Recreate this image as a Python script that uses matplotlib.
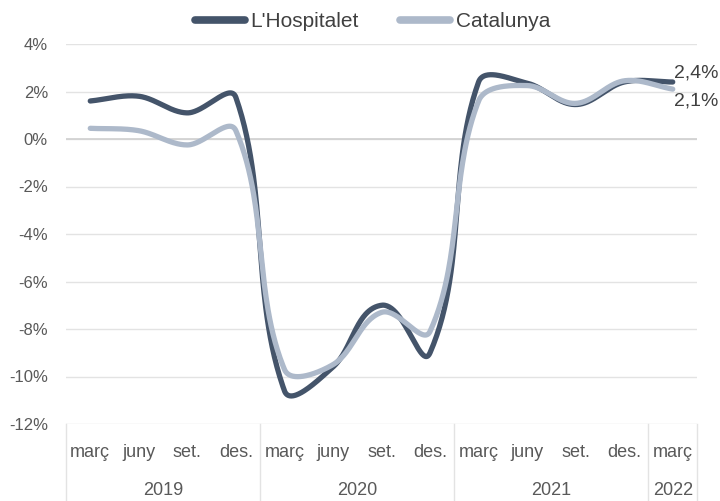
import numpy as np
import matplotlib.pyplot as plt
import matplotlib.transforms as mtransforms

plt.rcParams['font.family'] = ['Liberation Sans Narrow', 'Liberation Sans', 'DejaVu Sans']

# data: quarterly values, % change
months = ['març', 'juny', 'set.', 'des.'] * 3 + ['març']
years = ['2019', '2020', '2021', '2022']
year_len = [4, 4, 4, 1]
hospitalet = [1.6, 1.8, 1.1, 1.75, -10.6, -9.6, -7.0, -9.0, 2.4, 2.35, 1.45, 2.4, 2.4]
catalunya = [0.45, 0.35, -0.25, 0.35, -9.7, -9.5, -7.3, -8.1, 1.6, 2.25, 1.5, 2.45, 2.1]
last_labels = ['2,4%', '2,1%']
yticks = [4, 2, 0, -2, -4, -6, -8, -10, -12]

dark = '#44546a'
light = '#adb9ca'
txt = '#595959'
grid = '#e3e3e3'


def smooth(ax, vals, n=60):
    # excel-like smoothing: bezier in screen space, tangent from neighbours,
    # control arm = chord length / 3
    pts = ax.transData.transform(np.column_stack([np.arange(len(vals)), vals]))
    k = len(pts)
    tang = []
    for i in range(k):
        a = pts[max(i - 1, 0)]
        b = pts[min(i + 1, k - 1)]
        d = b - a
        tang.append(d / np.hypot(*d))
    out = []
    t = np.linspace(0, 1, n)[:, None]
    for i in range(k - 1):
        p1, p2 = pts[i], pts[i + 1]
        ch = np.hypot(*(p2 - p1)) / 3
        c1 = p1 + tang[i] * ch
        c2 = p2 - tang[i + 1] * ch
        seg = (1 - t)**3 * p1 + 3 * (1 - t)**2 * t * c1 + 3 * (1 - t) * t**2 * c2 + t**3 * p2
        out.append(seg)
    out = ax.transData.inverted().transform(np.vstack(out))
    return out[:, 0], out[:, 1]


fig = plt.figure(figsize=(7.2, 5.01), dpi=100)
ax = fig.add_axes([66 / 720, 1 - 424 / 501, 631 / 720, 380 / 501])

n = len(months)
ax.set_xlim(-0.5, n - 0.5)
ax.set_ylim(-12, 4)

for y in yticks:
    ax.axhline(y, color=grid, lw=1, zorder=0)
ax.axhline(0, color='#d0d0d0', lw=1.2, zorder=0)

x1, y1 = smooth(ax, hospitalet)
x2, y2 = smooth(ax, catalunya)
ax.plot(x1, y1, color=dark, lw=3.8, solid_capstyle='round', label="L'Hospitalet", zorder=3)
ax.plot(x2, y2, color=light, lw=3.8, solid_capstyle='round', label='Catalunya', zorder=4)

ax.set_yticks(yticks)
ax.set_yticklabels([f'{v}%' for v in yticks], color=txt, fontsize=12)
ax.tick_params(axis='y', length=0, pad=13)
ax.set_xticks([])
for s in ax.spines.values():
    s.set_visible(False)

# last point labels
ax.text(n - 1 + 0.02, hospitalet[-1] + 0.37, last_labels[0], fontsize=14, color='#404040',
        ha='left', va='center', clip_on=False)
ax.text(n - 1 + 0.02, catalunya[-1] - 0.52, last_labels[1], fontsize=14, color='#404040',
        ha='left', va='center', clip_on=False)

# category axis below
tr = mtransforms.blended_transform_factory(ax.transData, ax.transAxes)
for i, m in enumerate(months):
    ax.text(i, -0.074, m, transform=tr, ha='center', va='center', fontsize=13, color=txt)
start = 0
bounds = [-0.5]
for yr, ln in zip(years, year_len):
    ax.text(start + ln / 2 - 0.5, -0.174, yr, transform=tr, ha='center', va='center',
            fontsize=13, color=txt)
    start += ln
    bounds.append(start - 0.5)
for b in bounds:
    ax.plot([b, b], [0, -0.21], transform=tr, color=grid, lw=1, clip_on=False)

leg = ax.legend(loc='center', bbox_to_anchor=(0.486, 1.058), ncol=2, frameon=False,
                fontsize=15, handlelength=2.4, handletextpad=0.25, columnspacing=2.0,
                labelcolor='#404040')
for h in leg.get_lines():
    h.set_linewidth(5.5)

fig.savefig('out.png', dpi=100)
